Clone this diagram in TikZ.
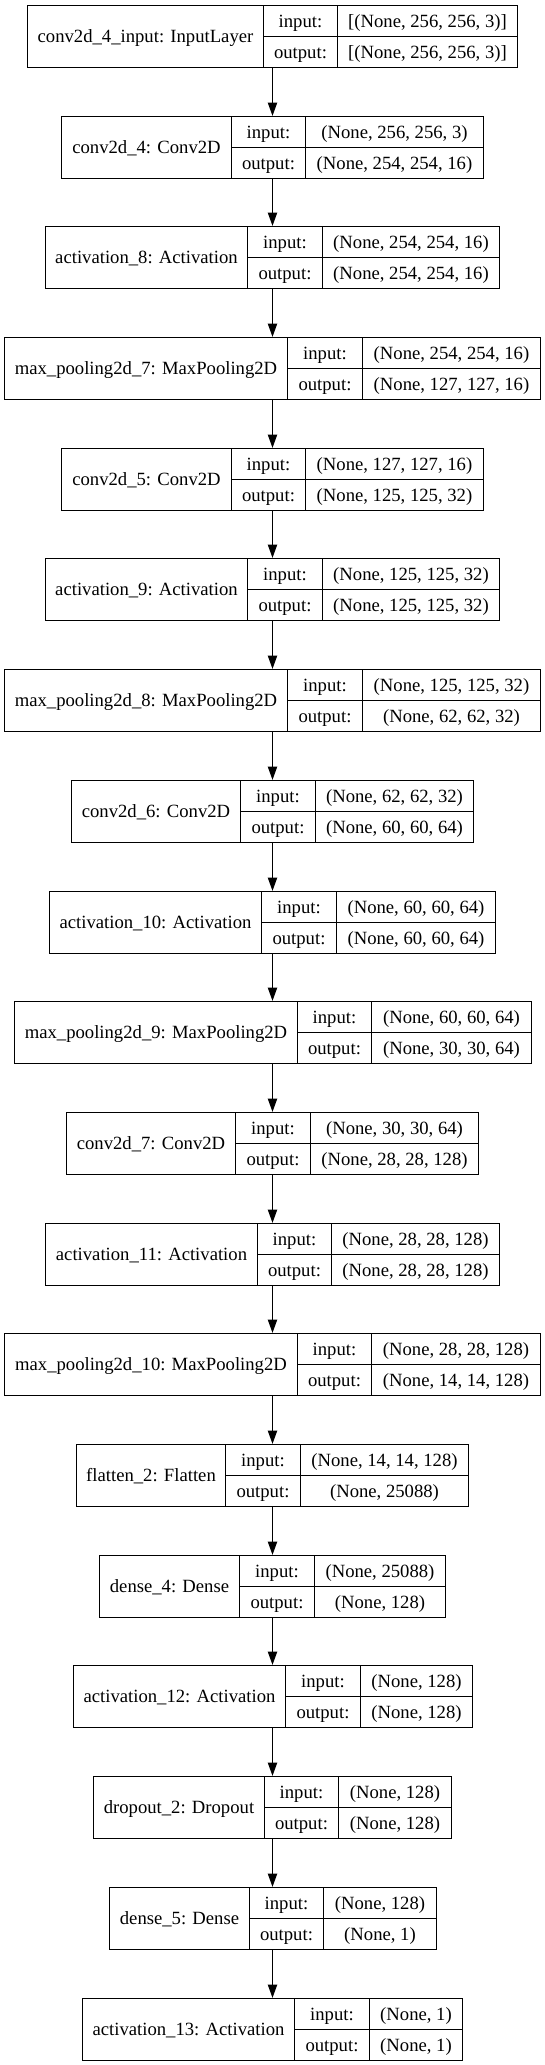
\documentclass[tikz,border=0pt]{standalone}
\usepackage{fontspec}
\setmainfont{Liberation Serif}
\usetikzlibrary{arrows.meta}
\tikzset{
  cell/.style={inner sep=0pt, text height=16bp, text depth=4bp,
    font=\fontsize{18.67bp}{22bp}\selectfont},
  wholebox/.style={draw, line width=1.2bp, inner sep=0pt, minimum height=62bp},
  divider/.style={line width=1.2bp},
  arr/.style={line width=1.2bp, -{Triangle[length=13.3bp,width=9.3bp]}}
}
% #1 index, #2 L, #3 D1, #4 D2, #5 R, #6 label, #7 input, #8 output
\newcommand\kerlayer[8]{%
  \pgfmathsetmacro\ytop{round(36+110.7*#1-31)+0.5}%
  \pgfmathsetmacro\yc{\ytop+31}%
  \pgfmathsetmacro\yu{\yc-15.5}%
  \pgfmathsetmacro\yd{\yc+15.5}%
  \pgfmathsetmacro\La{floor(#2)+0.5}%
  \pgfmathsetmacro\Da{floor(#3)+0.5}%
  \pgfmathsetmacro\Db{floor(#4)+0.5}%
  \pgfmathsetmacro\Ra{floor(#5)+0.5}%
  \pgfmathsetmacro\wa{\Da-\La}%
  \pgfmathsetmacro\wb{\Db-\Da}%
  \pgfmathsetmacro\wc{\Ra-\Db}%
  \pgfmathsetmacro\wt{\Ra-\La}%
  \pgfmathsetmacro\xa{(\La+\Da)/2}%
  \pgfmathsetmacro\xb{(\Da+\Db)/2}%
  \pgfmathsetmacro\xc{(\Db+\Ra)/2}%
  \pgfmathsetmacro\xt{(\La+\Ra)/2}%
  \node[wholebox, minimum width=\wt bp] (box#1) at (\xt,\yc) {};
  \node[cell, minimum width=\wa bp, minimum height=62bp] (name#1) at (\xa,\yc) {#6};
  \node[cell, minimum width=\wb bp, minimum height=31bp] (inl#1) at (\xb,\yu) {input:};
  \node[cell, minimum width=\wb bp, minimum height=31bp] (outl#1) at (\xb,\yd) {output:};
  \node[cell, minimum width=\wc bp, minimum height=31bp] (inv#1) at (\xc,\yu) {#7};
  \node[cell, minimum width=\wc bp, minimum height=31bp] (outv#1) at (\xc,\yd) {#8};
  \draw[divider] (name#1.north east) -- (name#1.south east);
  \draw[divider] (inl#1.north east) -- (outl#1.south east);
  \draw[divider] (inl#1.south west) -- (inv#1.south east);
}
\begin{document}
\begin{tikzpicture}[x=1bp, y=-1bp]
\useasboundingbox (0,0) rectangle (545,2065);
\fill[white] (0,0) rectangle (545,2065);
\coordinate (axis) at (272.5,0);
\kerlayer{0}{27.1}{263.1}{337.9}{517.9}{conv2d\_4\_input: InputLayer}{[(None, 256, 256, 3)]}{[(None, 256, 256, 3)]}
\kerlayer{1}{61.9}{231.1}{305.9}{483.1}{conv2d\_4: Conv2D}{(None, 256, 256, 3)}{(None, 254, 254, 16)}
\kerlayer{2}{45.2}{247.8}{322.6}{499.8}{activation\_8: Activation}{(None, 254, 254, 16)}{(None, 254, 254, 16)}
\kerlayer{3}{4.9}{287.8}{362.5}{540.5}{max\_pooling2d\_7: MaxPooling2D}{(None, 254, 254, 16)}{(None, 127, 127, 16)}
\kerlayer{4}{61.9}{231.1}{305.9}{483.1}{conv2d\_5: Conv2D}{(None, 127, 127, 16)}{(None, 125, 125, 32)}
\kerlayer{5}{45.2}{247.8}{322.6}{499.8}{activation\_9: Activation}{(None, 125, 125, 32)}{(None, 125, 125, 32)}
\kerlayer{6}{4.9}{287.8}{362.5}{540.5}{max\_pooling2d\_8: MaxPooling2D}{(None, 125, 125, 32)}{(None, 62, 62, 32)}
\kerlayer{7}{71.3}{240.2}{315.3}{473.8}{conv2d\_6: Conv2D}{(None, 62, 62, 32)}{(None, 60, 60, 64)}
\kerlayer{8}{49.7}{261.7}{336.5}{495.3}{activation\_10: Activation}{(None, 60, 60, 64)}{(None, 60, 60, 64)}
\kerlayer{9}{14.3}{297.2}{371.9}{531.1}{max\_pooling2d\_9: MaxPooling2D}{(None, 60, 60, 64)}{(None, 30, 30, 64)}
\kerlayer{10}{66.4}{235.7}{310.4}{478.6}{conv2d\_7: Conv2D}{(None, 30, 30, 64)}{(None, 28, 28, 128)}
\kerlayer{11}{45.2}{257.2}{331.9}{499.8}{activation\_11: Activation}{(None, 28, 28, 128)}{(None, 28, 28, 128)}
\kerlayer{12}{4.9}{297.2}{371.9}{540.5}{max\_pooling2d\_10: MaxPooling2D}{(None, 28, 28, 128)}{(None, 14, 14, 128)}
\kerlayer{13}{76.5}{225.9}{300.7}{468.5}{flatten\_2: Flatten}{(None, 14, 14, 128)}{(None, 25088)}
\kerlayer{14}{99.8}{239.8}{314.6}{445.6}{dense\_4: Dense}{(None, 25088)}{(None, 128)}
\kerlayer{15}{73.0}{285.0}{360.1}{472.0}{activation\_12: Activation}{(None, 128)}{(None, 128)}
\kerlayer{16}{93.8}{264.5}{338.9}{451.2}{dropout\_2: Dropout}{(None, 128)}{(None, 128)}
\kerlayer{17}{109.5}{249.2}{323.6}{436.2}{dense\_5: Dense}{(None, 128)}{(None, 1)}
\kerlayer{18}{82.4}{294.8}{369.5}{462.3}{activation\_13: Activation}{(None, 1)}{(None, 1)}
\foreach \i [evaluate=\i as \j using int(\i+1)] in {0,...,17} {
  \draw[arr] (box\i.south -| axis) -- (box\j.north -| axis);
}
\end{tikzpicture}
\end{document}
